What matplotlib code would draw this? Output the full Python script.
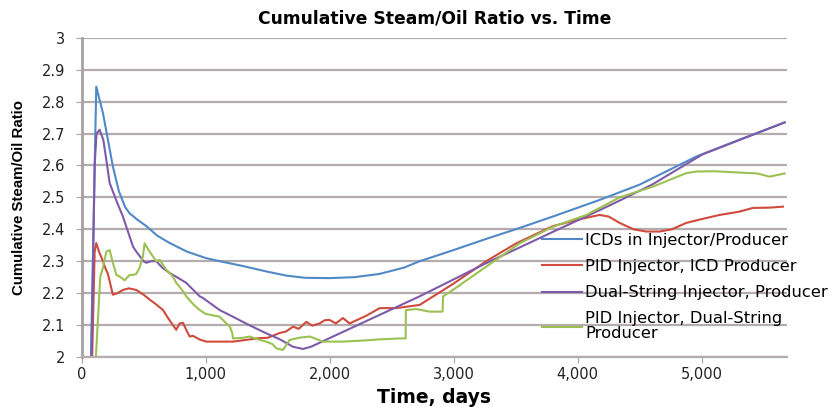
import matplotlib
matplotlib.use("Agg")
import matplotlib.pyplot as plt
from matplotlib.ticker import FuncFormatter

# ICDs in Injector/Producer
t_icd = [75, 118, 172, 252, 300, 350, 387, 450, 522, 610, 710, 850, 1000, 1113,
         1300, 1500, 1650, 1800, 2000, 2200, 2400, 2600, 2726, 3000, 3263, 3500,
         3800, 4177, 4500, 4957, 5300, 5670]
y_icd = [2.0, 2.847, 2.764, 2.597, 2.52, 2.47, 2.45, 2.43, 2.41, 2.38, 2.357,
         2.33, 2.31, 2.30, 2.285, 2.267, 2.255, 2.248, 2.247, 2.25, 2.26, 2.28,
         2.30, 2.335, 2.37, 2.40, 2.44, 2.492, 2.54, 2.628, 2.68, 2.735]

# PID Injector, ICD Producer
t_pid_icd = [85, 105, 118, 140, 172, 190, 212, 252, 290, 333, 380, 441, 500,
             548, 600, 656, 700, 763, 790, 817, 850, 871, 898, 950, 1005, 1100,
             1220, 1300, 1435, 1500, 1597, 1650, 1705, 1750, 1812, 1860, 1919,
             1960, 2000, 2050, 2107, 2161, 2300, 2403, 2538, 2726, 3000, 3263,
             3500, 3800, 4000, 4177, 4250, 4339, 4450, 4554, 4661, 4760, 4876,
             5000, 5145, 5300, 5414, 5550, 5656]
y_pid_icd = [2.0, 2.33, 2.357, 2.33, 2.30, 2.28, 2.26, 2.195, 2.20, 2.21, 2.215,
             2.21, 2.195, 2.18, 2.165, 2.147, 2.12, 2.085, 2.105, 2.107, 2.08,
             2.064, 2.066, 2.055, 2.048, 2.048, 2.048, 2.052, 2.059, 2.06, 2.075,
             2.08, 2.095, 2.088, 2.11, 2.098, 2.105, 2.115, 2.116, 2.105, 2.122,
             2.105, 2.13, 2.153, 2.153, 2.163, 2.23, 2.30, 2.355, 2.41, 2.43,
             2.445, 2.44, 2.42, 2.40, 2.393, 2.393, 2.40, 2.42, 2.432, 2.445,
             2.455, 2.467, 2.468, 2.471]

# Dual-String Injector, Producer
t_dual = [80, 105, 120, 145, 175, 199, 226, 280, 333, 414, 441, 500, 522, 560,
          602, 650, 710, 790, 844, 952, 977, 1113, 1220, 1350, 1489, 1600, 1704,
          1785, 1850, 2027, 2726, 3263, 3801, 4177, 4339, 4600, 5008, 5670]
y_dual = [2.0, 2.6, 2.70, 2.712, 2.68, 2.618, 2.545, 2.49, 2.44, 2.346, 2.33,
          2.30, 2.295, 2.30, 2.30, 2.28, 2.263, 2.245, 2.232, 2.19, 2.185, 2.147,
          2.126, 2.10, 2.074, 2.055, 2.032, 2.025, 2.032, 2.064, 2.19, 2.294,
          2.392, 2.46, 2.49, 2.54, 2.635, 2.735]

# PID Injector, Dual-String Producer
t_pid_dual = [115, 150, 172, 199, 226, 252, 280, 306, 347, 387, 414, 440, 468,
              494, 508, 548, 602, 629, 683, 736, 763, 800, 844, 900, 952, 1000,
              1113, 1194, 1215, 1220, 1300, 1355, 1420, 1489, 1540, 1570, 1624,
              1677, 1750, 1839, 1900, 1946, 2100, 2296, 2400, 2565, 2613, 2615,
              2700, 2806, 2911, 2915, 2994, 3263, 3532, 3801, 4070, 4339, 4608,
              4876, 4957, 5100, 5300, 5450, 5548, 5670]
y_pid_dual = [2.0, 2.25, 2.28, 2.33, 2.335, 2.295, 2.257, 2.252, 2.24, 2.257,
              2.257, 2.26, 2.28, 2.315, 2.356, 2.33, 2.30, 2.304, 2.273, 2.252,
              2.232, 2.215, 2.19, 2.165, 2.147, 2.135, 2.126, 2.095, 2.075,
              2.058, 2.06, 2.064, 2.055, 2.048, 2.04, 2.027, 2.022, 2.053, 2.06,
              2.064, 2.055, 2.048, 2.048, 2.052, 2.055, 2.058, 2.058, 2.147,
              2.15, 2.142, 2.142, 2.19, 2.21, 2.283, 2.356, 2.408, 2.445, 2.50,
              2.534, 2.576, 2.581, 2.582, 2.578, 2.575, 2.565, 2.575]

labels = ["ICDs in Injector/Producer", "PID Injector, ICD Producer",
          "Dual-String Injector, Producer", "PID Injector, Dual-String\nProducer"]
colors = ["#5089c6", "#cf4b3d", "#7e5ba8", "#9cc152"]

plt.rcParams['font.family'] = ['DejaVu Sans']

fig = plt.figure(figsize=(8.33, 4.07), dpi=100)
ax = fig.add_axes([0.098, 0.123, 0.847, 0.784])

series = [(t_icd, y_icd), (t_pid_icd, y_pid_icd), (t_dual, y_dual), (t_pid_dual, y_pid_dual)]
for (t, y), lab, c in zip(series, labels, colors):
    ax.plot(t, y, color=c, lw=1.5, label=lab)

ax.set_xlim(0, 5690)
ax.set_ylim(2, 3)
ax.set_yticks([2, 2.1, 2.2, 2.3, 2.4, 2.5, 2.6, 2.7, 2.8, 2.9, 3])
ax.set_xticks([0, 1000, 2000, 3000, 4000, 5000])
ax.xaxis.set_major_formatter(FuncFormatter(lambda v, p: f"{int(v):,}"))
ax.yaxis.set_major_formatter(FuncFormatter(lambda v, p: f"{v:g}"))
ax.grid(axis='y', color='#b5adad', lw=1.6)
ax.set_axisbelow(True)
for s in ['top', 'right']:
    ax.spines[s].set_visible(False)
ax.spines['left'].set_color('#a8a0a0')
ax.spines['left'].set_linewidth(2)
ax.spines['bottom'].set_color('#b5adad')
ax.spines['bottom'].set_linewidth(1.6)
ax.tick_params(colors='#a8a0a0', labelcolor='#222222', labelsize=10.5, length=4)
ax.tick_params(axis='y', pad=8)

ax.set_title("Cumulative Steam/Oil Ratio vs. Time", fontsize=12.3, fontweight='bold', pad=10)
ax.set_xlabel("Time, days", fontsize=13.5, fontweight='bold', labelpad=4)
ax.set_ylabel("Cumulative Steam/Oil Ratio", fontsize=10.8, fontweight='bold',
              family=['Liberation Sans Narrow', 'Liberation Sans'], labelpad=11)

leg = ax.legend(loc='upper left', bbox_to_anchor=(542 / 833, 1 - 233 / 407),
                bbox_transform=fig.transFigure, frameon=False, borderpad=0,
                borderaxespad=0, fontsize=11.8, handlelength=2.45,
                handletextpad=0.2, labelspacing=0.68)
for txt in leg.get_texts():
    txt.set_linespacing(1.0)

fig.savefig("out.png", dpi=100)
